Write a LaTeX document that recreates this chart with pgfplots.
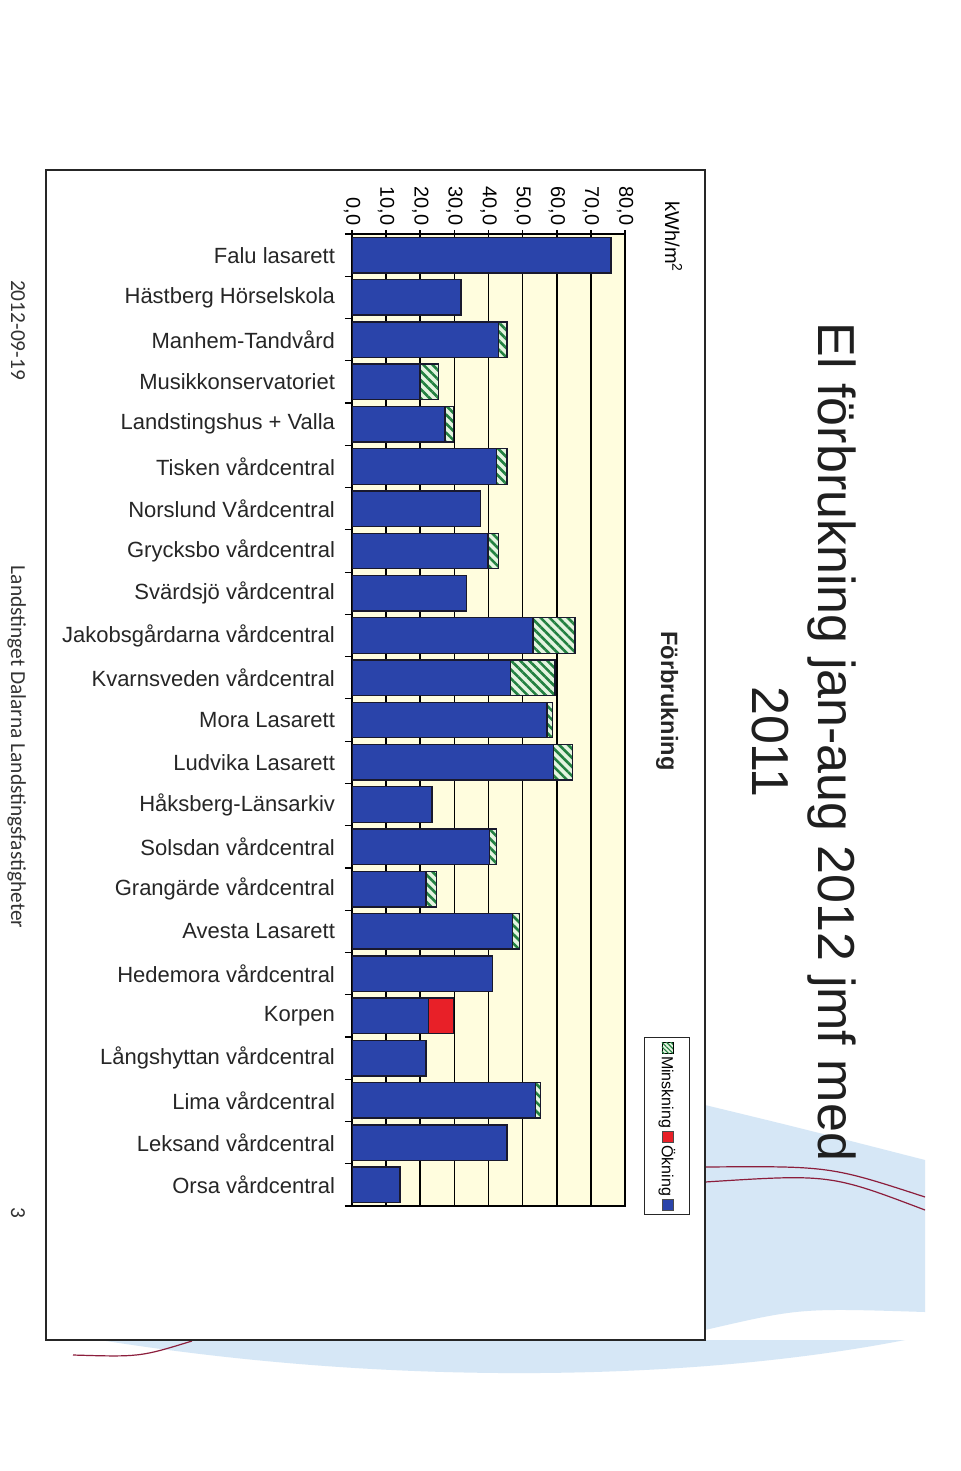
\documentclass[border=0pt]{standalone}
\usepackage{pgfplots}
\pgfplotsset{compat=1.18}
\usepackage{pgfplotstable}
\usetikzlibrary{patterns.meta}
\usepackage{fontspec}
\setmainfont{Liberation Sans}
\newfontfamily\carlito{Carlito}
\definecolor{barblue}{RGB}{42,68,170}
\definecolor{baredge}{RGB}{25,25,45}
\definecolor{cream}{RGB}{255,253,222}
\definecolor{hatchgreen}{RGB}{34,128,64}
\definecolor{hatchbg}{RGB}{228,244,224}
\definecolor{barred}{RGB}{232,32,40}
\definecolor{decoblue}{RGB}{214,231,246}
\definecolor{decored}{RGB}{140,30,60}
\newcommand\lsq[1]{\tikz[baseline=0pt,x=1pt,y=1pt]\draw[#1] (0,0) rectangle (5.5,5.5);}

% idx, 2012 value (blue), decrease vs 2011 (hatched), increase (red)
\pgfplotstableread{
idx blue minsk okn
0 75.9 0 0
1 31.9 0 0
2 42.9 2.5 0
3 19.9 5.4 0
4 27.3 2.4 0
5 42.4 3.0 0
6 37.7 0 0
7 39.8 3.1 0
8 33.6 0 0
9 53.0 12.4 0
10 46.5 13.0 0
11 57.1 1.6 0
12 59.0 5.7 0
13 23.5 0 0
14 40.3 2.1 0
15 21.7 3.1 0
16 47.1 2.0 0
17 41.1 0 0
18 22.4 0 7.3
19 21.7 0 0
20 53.7 1.6 0
21 45.4 0 0
22 14.1 0 0
}\eldata

\begin{document}
\begin{tikzpicture}[x=0.5pt,y=-0.5pt]
\fill[white] (0,0) rectangle (960,1471);
% slide background decoration
\fill[decoblue] (705,1105) .. controls (800,1128) .. (925,1160) -- (925,1312) .. controls (800,1308) .. (705,1330) -- cycle;
\draw[decored, line width=0.6pt] (705,1167) .. controls (830,1166) .. (925,1197);
\draw[decored, line width=0.6pt] (705,1182) .. controls (830,1174) .. (925,1210);
\fill[decoblue] (100,1340) .. controls (400,1388) and (700,1380) .. (905,1340) -- cycle;
\draw[decored, line width=0.6pt] (73,1355) .. controls (140,1357) .. (192,1341);
% chart frame
\draw[line width=1.1pt, black!85] (46,170) rectangle (705,1340);

\begin{axis}[
  at={(176pt,-117pt)}, anchor=north west,
  scale only axis, width=136.5pt, height=486pt,
  xbar stacked, bar width=0.84,
  xmin=0, xmax=80, ymin=-0.5, ymax=22.5, y dir=reverse,
  axis background/.style={fill=cream},
  axis line style={line width=0.9pt, black},
  xtick={0,10,...,80},
  xtick pos=right, xticklabel pos=right,
  xtick align=center, major tick length=4pt,
  xmajorgrids, major x grid style={black, line width=0.8pt},
  every major x tick/.append style={black, line width=0.8pt},
  xticklabel style={rotate=-90, anchor=east, font=\fontsize{10}{12}\selectfont, inner sep=2pt},
  /pgf/number format/.cd, fixed, fixed zerofill, precision=1, use comma, assume math mode=true,
  /pgfplots/.cd,
  ytick={0,...,22},
  minor ytick={-0.5,0.5,...,22.5},
  ytick pos=left, ytick align=outside,
  minor tick length=3.5pt,
  every major y tick/.append style={draw=none},
  every minor y tick/.append style={black, line width=0.6pt},
  yticklabel style={font=\fontsize{11}{13}\selectfont, text=black!85, xshift=-1pt},
  yticklabels={Falu lasarett, Hästberg Hörselskola, Manhem-Tandvård, Musikkonservatoriet, Landstingshus + Valla, Tisken vårdcentral, Norslund Vårdcentral, Grycksbo vårdcentral, Svärdsjö vårdcentral, Jakobsgårdarna vårdcentral, Kvarnsveden vårdcentral, Mora Lasarett, Ludvika Lasarett, Håksberg-Länsarkiv, Solsdan vårdcentral, Grangärde vårdcentral, Avesta Lasarett, Hedemora vårdcentral, Korpen, Långshyttan vårdcentral, Lima vårdcentral, Leksand vårdcentral, Orsa vårdcentral},
]
\addplot[fill=barblue, draw=baredge, line width=0.7pt] table[x=blue, y=idx] {\eldata};
\addplot[fill=hatchbg, draw=baredge, line width=0.7pt,
  postaction={pattern={Lines[angle=-45,distance=3.2pt,line width=1.3pt]}, pattern color=hatchgreen}]
  table[x=minsk, y=idx] {\eldata};
\addplot[fill=barred, draw=baredge, line width=0.7pt] table[x=okn, y=idx] {\eldata};
\end{axis}

% legend (rotated with the page)
\node[rotate=-90, draw=black!85, line width=0.6pt, fill=white, inner xsep=2pt, minimum height=22.5pt,
  font=\fontsize{8}{9}\selectfont, anchor=center] at (667,1126)
  {\lsq{fill=hatchbg, draw=black, postaction={pattern={Lines[angle=-45,distance=1.6pt,line width=0.6pt]}, pattern color=hatchgreen}}\,Minskning\,\lsq{fill=barred, draw=black!70}\,Ökning\,\lsq{fill=barblue, draw=black!70}};

% texts
\node[rotate=-90, anchor=base, font=\fontsize{26}{30}\selectfont, text=black!88] at (818,742) {El förbrukning jan-aug 2012 jmf med};
\node[rotate=-90, anchor=base, font=\fontsize{26}{30}\selectfont, text=black!88] at (752,742) {2011};
\node[rotate=-90, anchor=base, font=\bfseries\fontsize{11.8}{14}\selectfont, text=black!85] at (661,701) {Förbrukning};
\node[rotate=-90, anchor=base, font=\fontsize{10}{12}\selectfont] at (665,237) {kWh/m\textsuperscript{2}};
\node[rotate=-90, anchor=base, font=\carlito\fontsize{10.7}{12}\selectfont, text=black!80] at (11,330) {2012-09-19};
\node[rotate=-90, anchor=base, font=\carlito\fontsize{10.7}{12}\selectfont, text=black!80] at (11,747) {Landstinget Dalarna Landstingsfastigheter};
\node[rotate=-90, anchor=base, font=\carlito\fontsize{10.7}{12}\selectfont, text=black!80] at (11,1213) {3};
\end{tikzpicture}
\end{document}
